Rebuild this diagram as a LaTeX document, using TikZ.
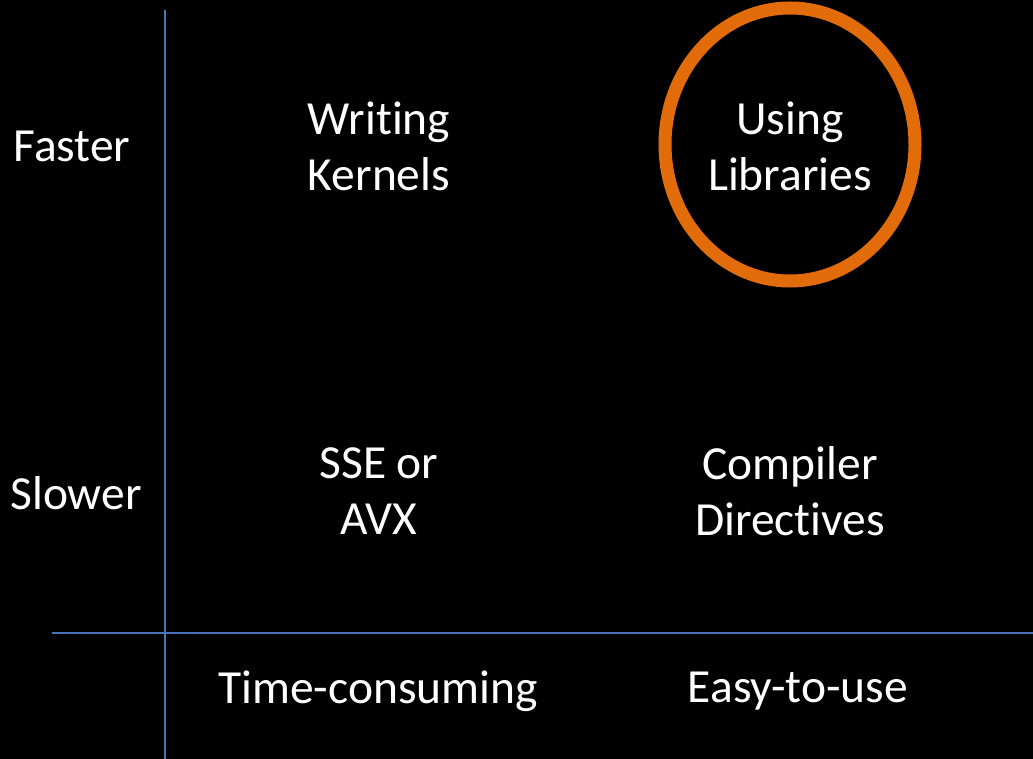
\documentclass[tikz,border=0pt]{standalone}
\usepackage{fontspec}
\setmainfont[Ligatures=CommonOff]{Carlito}
\begin{document}
\begin{tikzpicture}[x=1pt,y=-1pt,
  axis/.style={draw=axisblue,line width=2pt},
  lbl/.style={text=white,align=center,font=\fontsize{47.5}{56}\selectfont,inner sep=0pt},
  ring/.style={draw=ringorange,line width=13pt}]
\definecolor{axisblue}{HTML}{4A72B8}
\definecolor{ringorange}{HTML}{E36C0A}
\fill[black] (0,0) rectangle (1033,759);
\useasboundingbox (0,0) rectangle (1033,759);
% axes
\coordinate (vtop) at (165,10);
\coordinate (vbot) at (165,759);
\coordinate (hl) at (52,633);
\coordinate (hr) at (1033,633);
\draw[axis] (vtop) -- (vbot);
\draw[axis] (hl) -- (hr);
% row labels
\node[lbl] (faster) at (72,146) {Faster};
\node[lbl] (slower) at (76,493) {Slower};
% quadrants
\node[lbl] (kernels) at (379,146) {Writing\\Kernels};
\node[lbl] (libs) at (790,146) {Using\\Libraries};
\node[lbl] (sse) at (379,491) {SSE or\\AVX};
\node[lbl] (directives) at (790,491) {Compiler\\Directives};
% column labels
\node[lbl] (time) at (378,691) {Time-consuming};
\node[lbl] (easy) at (798,691) {Easy-to-use};
% highlight
\draw[ring] (790,144.5) ellipse [x radius=125, y radius=136.5];
\end{tikzpicture}
\end{document}
